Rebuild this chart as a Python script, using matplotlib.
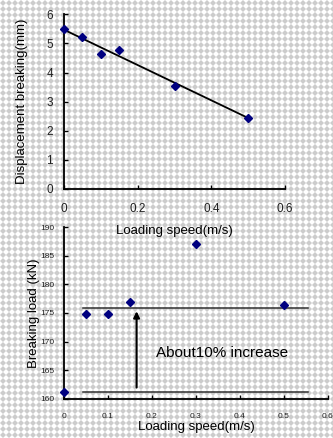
import numpy as np
import matplotlib
matplotlib.use("Agg")
import matplotlib.pyplot as plt

plt.rcParams['font.family'] = ['Liberation Sans', 'DejaVu Sans']

# Top chart data
speed_top = [0.0, 0.05, 0.10, 0.15, 0.30, 0.50]
displacement = [5.50, 5.23, 4.64, 4.77, 3.53, 2.43]
trend_x = [0.0, 0.503]
trend_y = [5.47, 2.42]

# Bottom chart data
speed_bot = [0.0, 0.05, 0.10, 0.15, 0.30, 0.50]
load = [161.3, 174.8, 174.9, 176.9, 187.1, 176.4]
upper_level = 175.9
lower_level = 161.3
level_span = [0.044, 0.555]
arrow_x = 0.165
arrow_from = 162.0
arrow_to = 175.3

W, H = 333, 438
fig = plt.figure(figsize=(W / 100, H / 100), dpi=100)

# checkered background texture
yy, xx = np.mgrid[0:H, 0:W]
d = np.abs((xx % 6) - 2.5) + np.abs((yy % 6) - 2.5)
bg = np.where(d <= 2.1, 0.80, np.where(d <= 3.1, 0.90, 1.0))
img = np.dstack([bg, bg, bg])
axbg = fig.add_axes([0, 0, 1, 1], zorder=-10)
axbg.imshow(img, interpolation='nearest', aspect='auto')
axbg.axis('off')

mk = dict(marker='D', color='#000080', markersize=3.6, linestyle='none', zorder=5)
tick_col = '#222222'

# ---- top axes
ax1 = fig.add_axes([64 / W, 1 - 189 / H, (285 - 64) / W, (189 - 14.3) / H])
ax1.set_facecolor('none')
ax1.plot(trend_x, trend_y, color='black', lw=1.3, zorder=4)
ax1.plot(speed_top, displacement, clip_on=False, **mk)
ax1.set_xlim(0, 0.6)
ax1.set_ylim(0, 6)
ax1.set_xticks([0, 0.2, 0.4, 0.6])
ax1.set_xticklabels(['0', '0.2', '0.4', '0.6'])
ax1.set_yticks(range(0, 7))
for s in ['top', 'right']:
    ax1.spines[s].set_visible(False)
for s in ['left', 'bottom']:
    ax1.spines[s].set_linewidth(1.3)
ax1.tick_params(direction='in', length=3, width=1, labelsize=8.5, colors='black',
                labelcolor=tick_col)
ax1.tick_params(axis='x', pad=10)
ax1.tick_params(axis='y', pad=8)
ax1.set_ylabel('Displacement breaking(mm)', fontsize=9.5, labelpad=13)
ax1.set_xlabel('Loading speed(m/s)', fontsize=9.5, labelpad=7)

# ---- bottom axes
ax2 = fig.add_axes([64 / W, 1 - 399 / H, (328 - 64) / W, (399 - 227) / H])
ax2.set_facecolor('none')
ax2.plot(level_span, [upper_level, upper_level], color='#333333', lw=1.1, zorder=3)
ax2.plot(level_span, [lower_level, lower_level], color='#333333', lw=1.1, zorder=3)
ax2.annotate('', xy=(arrow_x, arrow_to), xytext=(arrow_x, arrow_from),
             arrowprops=dict(arrowstyle='-|>', color='black', lw=1.5,
                             mutation_scale=9, shrinkA=0, shrinkB=0), zorder=4)
ax2.text(0.36, 168.1, 'About10% increase', fontsize=11, ha='center', va='center')
ax2.plot(speed_bot, load, clip_on=False, **mk)
ax2.set_xlim(0, 0.6)
ax2.set_ylim(160, 190)
ax2.set_xticks([0, 0.1, 0.2, 0.3, 0.4, 0.5, 0.6])
ax2.set_xticklabels(['0', '0.1', '0.2', '0.3', '0.4', '0.5', '0.6'])
ax2.set_yticks(range(160, 191, 5))
for s in ['top', 'right']:
    ax2.spines[s].set_visible(False)
for s in ['left', 'bottom']:
    ax2.spines[s].set_linewidth(1.3)
ax2.tick_params(direction='in', length=3, width=1, labelsize=6, colors='black',
                labelcolor=tick_col)
ax2.tick_params(axis='x', pad=10)
ax2.tick_params(axis='y', pad=7)
ax2.set_ylabel('Breaking load (kN)', fontsize=9.5, labelpad=0)
ax2.set_xlabel('Loading speed(m/s)', fontsize=9.5, labelpad=1)

fig.savefig('out.png', dpi=100)
